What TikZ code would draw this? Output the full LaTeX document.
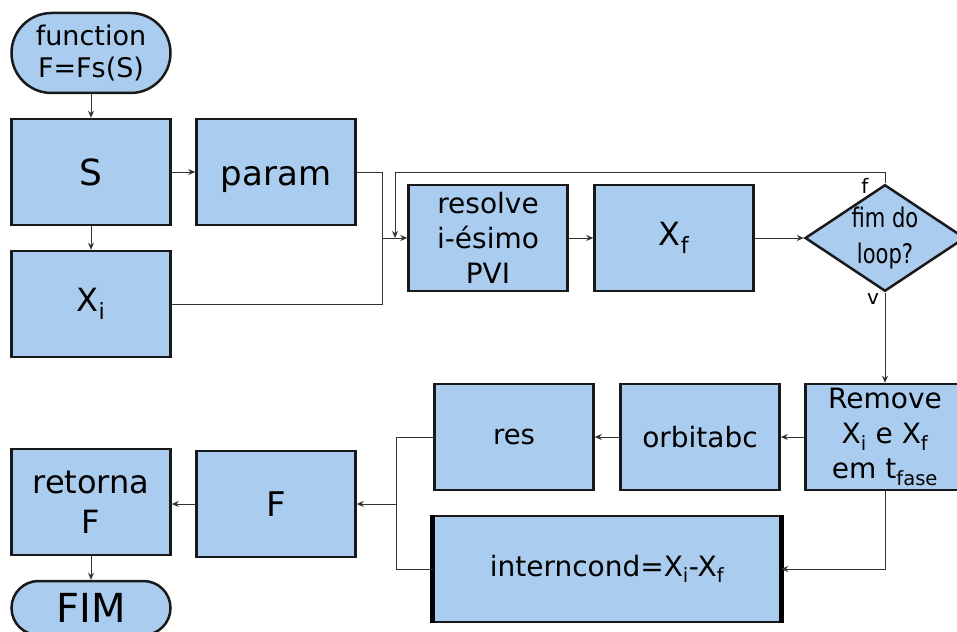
\documentclass[tikz,border=0pt]{standalone}
\usepackage{fontspec}
\setmainfont{DejaVu Sans}
\newfontfamily\condfont[FakeStretch=0.78]{DejaVu Sans}
\usetikzlibrary{shapes.geometric}
\usetikzlibrary{arrows.meta}

\definecolor{boxblue}{RGB}{170,204,238}
\tikzset{
  block/.style={draw=black!90,line width=2.5pt,fill=boxblue,minimum width=159pt,
    minimum height=106pt,align=center,inner sep=0pt},
  term/.style={block,rounded corners=40pt,minimum height=80pt},
  decide/.style={block,diamond,minimum width=158pt,minimum height=106pt,aspect=1.5},
  flow/.style={draw=black!80,line width=1pt,-{Stealth[length=7pt,width=6pt]}},
  link/.style={draw=black!80,line width=1pt},
}

\begin{document}
\begin{tikzpicture}[x=1pt,y=-1pt]
	\useasboundingbox (0,0) rectangle (957,631);
	% left column
	\node[term,font=\fontsize{27}{32}\selectfont] (start) at (91,53) {function\\F=Fs(S)};
	\node[block,font=\fontsize{36}{40}\selectfont] (S) at (91,172) {S};
	\node[block,text height=26pt,text depth=0pt,font=\fontsize{34}{40}\selectfont] (param) at (276,172) {param};
	\node[block,font=\fontsize{32}{40}\selectfont] (Xi) at (91,304) {X\textsubscript{i}};
	% loop over the PVIs
	\node[block,font=\fontsize{28}{35}\selectfont] (resolve) at (488,238) {resolve\\i-ésimo\\PVI};
	\node[block,font=\fontsize{32}{40}\selectfont] (Xf) at (674,238) {X\textsubscript{f}};
	\node[decide,font=\condfont\fontsize{27}{36}\selectfont] (dec) at (885,238) {fim do\\loop?};
	\node[font=\fontsize{20}{24}\selectfont] (lf) at (865,186) {f};
	\node[font=\fontsize{20}{24}\selectfont] (lv) at (873,299) {v};
	% after the loop
	\node[block,font=\fontsize{28}{35}\selectfont] (remove) at (885,437)
		{Remove\\X\textsubscript{i} e X\textsubscript{f}\\em t\textsubscript{fase}};
	\node[block,font=\fontsize{28}{35}\selectfont] (orbit) at (700,437) {orbitabc};
	\node[block,font=\fontsize{27.5}{35}\selectfont] (res) at (514,437) {res};
	\node[block,minimum width=346pt,font=\fontsize{28}{35}\selectfont] (intern) at (607,569)
		{interncond=X\textsubscript{i}-X\textsubscript{f}};
	\draw[line width=5pt,black] (intern.north west) -- (intern.south west);
	\draw[line width=5pt,black] (intern.north east) -- (intern.south east);
	\node[block,font=\fontsize{34}{40}\selectfont] (F) at (276,504) {F};
	\node[block,font=\fontsize{32}{40}\selectfont] (ret) at (91,502) {retorna\\F};
	\node[term,minimum height=54pt,rounded corners=27pt,font=\fontsize{40}{44}\selectfont] (fim) at (91,608) {FIM};

	\coordinate (j1) at (382,238);
	\coordinate (loopin) at (395,238);
	\coordinate (looptop) at (885,172);
	\coordinate (j2) at (396,504);

	\draw[flow] (start) -- (S);
	\draw[flow] (S) -- (param);
	\draw[flow] (S) -- (Xi);
	\draw[link] (param.east) -| (j1);
	\draw[link] (Xi.east) -| (j1);
	\draw[flow] (j1) -- (resolve.west);
	\draw[flow] (dec.north) -- (looptop) -| (loopin);
	\draw[flow] (resolve) -- (Xf);
	\draw[flow] (Xf) -- (dec);
	\draw[flow] (dec) -- (remove);
	\draw[flow] (remove) -- (orbit);
	\draw[flow] (orbit) -- (res);
	\draw[flow] (remove.south) |- (intern.east);
	\draw[link] (res.west) -| (j2);
	\draw[link] (intern.west) -| (j2);
	\draw[flow] (j2) -- (F.east);
	\draw[flow] (F) -- (ret.east |- F);
	\draw[flow] (ret) -- (fim);
\end{tikzpicture}
\end{document}
